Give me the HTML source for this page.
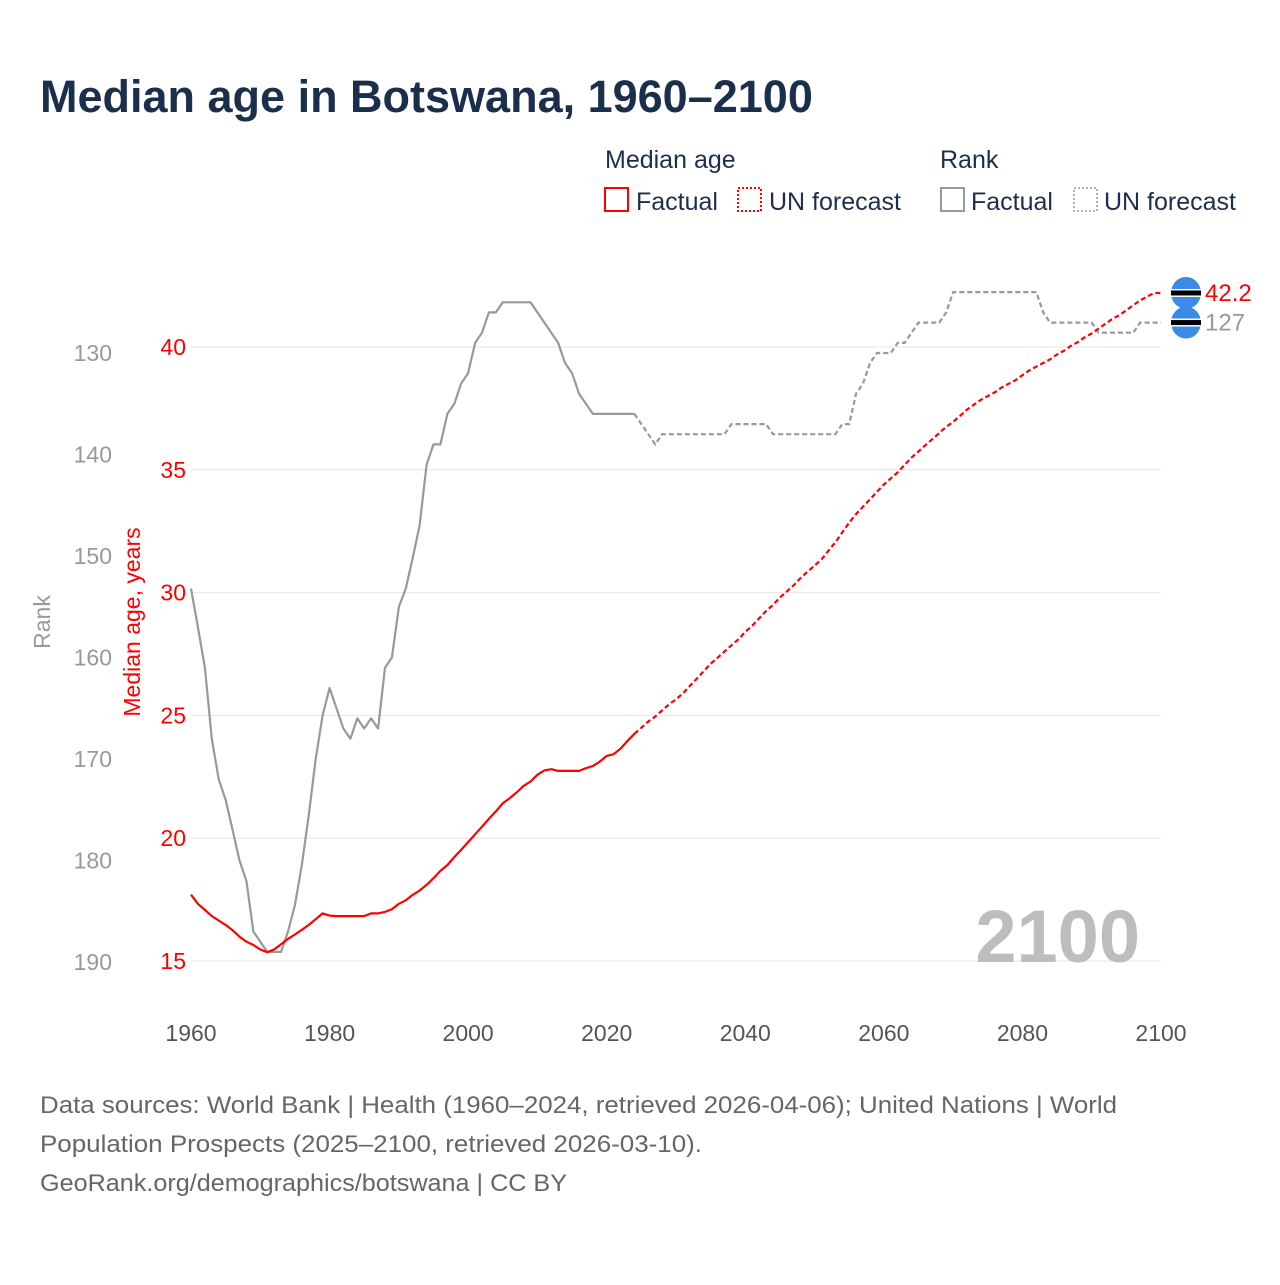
<!DOCTYPE html>
<html><head><meta charset="utf-8"><style>
body{margin:0;background:#fff;}
svg text{font-family:"Liberation Sans",sans-serif;}
</style></head><body>
<svg id="chart" width="1280" height="1280" viewBox="0 0 1280 1280" xmlns="http://www.w3.org/2000/svg">
<text x="40" y="112" font-size="45" font-weight="bold" fill="#1b2f4d">Median age in Botswana, 1960–2100</text>
<g font-size="25" fill="#1b2f4d">
<text x="605" y="168" fill="#1b2f4d">Median age</text>
<text x="940" y="168" fill="#1b2f4d">Rank</text>
<rect x="605" y="188" width="23" height="23" fill="none" stroke="#f00" stroke-width="2"/>
<text x="636" y="210" fill="#1b2f4d">Factual</text>
<rect x="738" y="188" width="23" height="23" fill="none" stroke="#f00" stroke-width="2" stroke-dasharray="2,2"/>
<text x="769" y="210" fill="#1b2f4d">UN forecast</text>
<rect x="941" y="188" width="23" height="23" fill="none" stroke="#999" stroke-width="2"/>
<text x="971" y="210" fill="#1b2f4d">Factual</text>
<rect x="1074" y="188" width="23" height="23" fill="none" stroke="#999" stroke-width="1.5" stroke-dasharray="2,2"/>
<text x="1104" y="210" fill="#1b2f4d">UN forecast</text>
</g>
<g id="grid"></g>
<g id="axes"></g>
<text x="1140" y="962" font-size="74" font-weight="bold" fill="#bdbdbd" text-anchor="end">2100</text>
<g id="series"></g>
<text transform="translate(50,622) rotate(-90)" font-size="23" fill="#999" text-anchor="middle">Rank</text>
<text transform="translate(140,622) rotate(-90)" font-size="23" fill="#f00" text-anchor="middle">Median age, years</text>
<g font-size="24" fill="#666">
<text x="40" y="1113" textLength="1077" lengthAdjust="spacingAndGlyphs">Data sources: World Bank | Health (1960–2024, retrieved 2026-04-06); United Nations | World</text>
<text x="40" y="1152" textLength="662" lengthAdjust="spacingAndGlyphs">Population Prospects (2025–2100, retrieved 2026-03-10).</text>
<text x="40" y="1191" textLength="527" lengthAdjust="spacingAndGlyphs">GeoRank.org/demographics/botswana | CC BY</text>
</g>
</svg>
<script>
const ageFactual=[17.7,17.33,17.08,16.83,16.65,16.47,16.25,15.99,15.79,15.65,15.47,15.36,15.47,15.68,15.9,16.08,16.27,16.47,16.7,16.94,16.85,16.83,16.83,16.83,16.83,16.83,16.94,16.94,17.0,17.11,17.33,17.47,17.69,17.87,18.1,18.37,18.67,18.91,19.23,19.53,19.84,20.16,20.47,20.79,21.09,21.42,21.63,21.86,22.13,22.31,22.58,22.76,22.81,22.74,22.74,22.74,22.74,22.85,22.94,23.12,23.35,23.42,23.65,23.96,24.25];
const ageForecast=[24.25,24.5,24.75,24.95,25.2,25.45,25.65,25.9,26.2,26.5,26.8,27.1,27.35,27.6,27.85,28.1,28.4,28.65,28.95,29.25,29.5,29.8,30.05,30.3,30.6,30.85,31.1,31.35,31.7,32.05,32.45,32.85,33.2,33.5,33.8,34.1,34.4,34.65,34.9,35.2,35.5,35.75,36.0,36.25,36.5,36.75,36.95,37.2,37.45,37.65,37.85,38.0,38.15,38.35,38.5,38.65,38.85,39.05,39.2,39.35,39.5,39.7,39.85,40.05,40.2,40.4,40.55,40.75,40.95,41.15,41.3,41.5,41.7,41.9,42.05,42.2,42.2];
const rankFactual=[153.2,157,161,168,172,174,177,180,182,187,188,189,189,189,187,184.4,180.4,175.5,170,165.7,163,165,167,168,166,167,166,167,161,160,155,153.2,150.2,147,141,139,139,136,135,133,132,129,128,126,126,125,125,125,125,125,126,127,128,129,131,132,134,135,136,136,136,136,136,136,136];
const rankForecast=[136,137,138,139,138,138,138,138,138,138,138,138,138,138,137,137,137,137,137,137,138,138,138,138,138,138,138,138,138,138,137,137,134,133,131,130,130,130,129,129,128,127,127,127,127,126,124,124,124,124,124,124,124,124,124,124,124,124,124,126,127,127,127,127,127,127,127,128,128,128,128,128,128,127,127,127,127];
const xTicks=[1960,1980,2000,2020,2040,2060,2080,2100];
const ageTicks=[15,20,25,30,35,40];
const rankTicks=[130,140,150,160,170,180,190];
const NS="http://www.w3.org/2000/svg";
const X=y=>191+(y-1960)*(970/140);
const YA=a=>961-(a-15)*(614/25);
const YR=r=>353+(r-130)*10.15;
function mk(tag,attrs,parent,txt){const e=document.createElementNS(NS,tag);for(const k in attrs)e.setAttribute(k,attrs[k]);if(txt!==undefined)e.textContent=txt;parent.appendChild(e);return e;}
const grid=document.getElementById('grid'),axes=document.getElementById('axes'),ser=document.getElementById('series');
ageTicks.forEach(t=>{
 const l=mk('line',{x1:191,x2:1161,y1:YA(t),y2:YA(t),stroke:'#e6e6e6','stroke-width':1},grid);
 
 
 const tx=mk('text',{x:186,y:YA(t)+8,'font-size':23,fill:'#f00','text-anchor':'end'},axes,String(t));
 
 
});
rankTicks.forEach(t=>{
 const tx=mk('text',{x:112,y:YR(t)+8,'font-size':23,fill:'#999','text-anchor':'end'},axes,String(t));
 
 
});
xTicks.forEach(t=>{
 const tx=mk('text',{x:X(t),y:1041,'font-size':23,fill:'#555','text-anchor':'middle'},axes,String(t));
 
 
});
function pts(arr,start,fy){return arr.map((v,i)=>X(start+i).toFixed(1)+','+fy(v).toFixed(1)).join(' ');}
let p;
p=mk('polyline',{points:pts(rankFactual,1960,YR),fill:'none',stroke:'#999','stroke-width':2.2,'stroke-linejoin':'round'},ser);


p=mk('polyline',{points:pts(rankForecast,2024,YR),fill:'none',stroke:'#999','stroke-width':2.2,'stroke-dasharray':'5,3'},ser);


p=mk('polyline',{points:pts(ageFactual,1960,YA),fill:'none',stroke:'#f00','stroke-width':2.2,'stroke-linejoin':'round'},ser);


p=mk('polyline',{points:pts(ageForecast,2024,YA),fill:'none',stroke:'#f00','stroke-width':2.2,'stroke-dasharray':'5,3'},ser);


function flag(cy,name){
 const g=mk('g',{},ser);
 
 
 mk('ellipse',{cx:1186,cy:cy,rx:15,ry:16,fill:'#3a8ae6'},g);
 mk('rect',{x:1171,y:cy-4,width:30,height:8,fill:'#fff'},g);
 mk('rect',{x:1171,y:cy-2.5,width:30,height:5,fill:'#000'},g);
}
const lastAge=ageForecast[ageForecast.length-1],lastRank=rankForecast[rankForecast.length-1];
flag(YA(lastAge),'age-end-flag');
flag(YR(lastRank),'rank-end-flag');
let t=mk('text',{x:1205,y:YA(lastAge)+8,'font-size':24,fill:'#f00'},ser,lastAge.toFixed(1));


t=mk('text',{x:1205,y:YR(lastRank)+8,'font-size':24,fill:'#999'},ser,String(lastRank));


</script>
</body></html>
